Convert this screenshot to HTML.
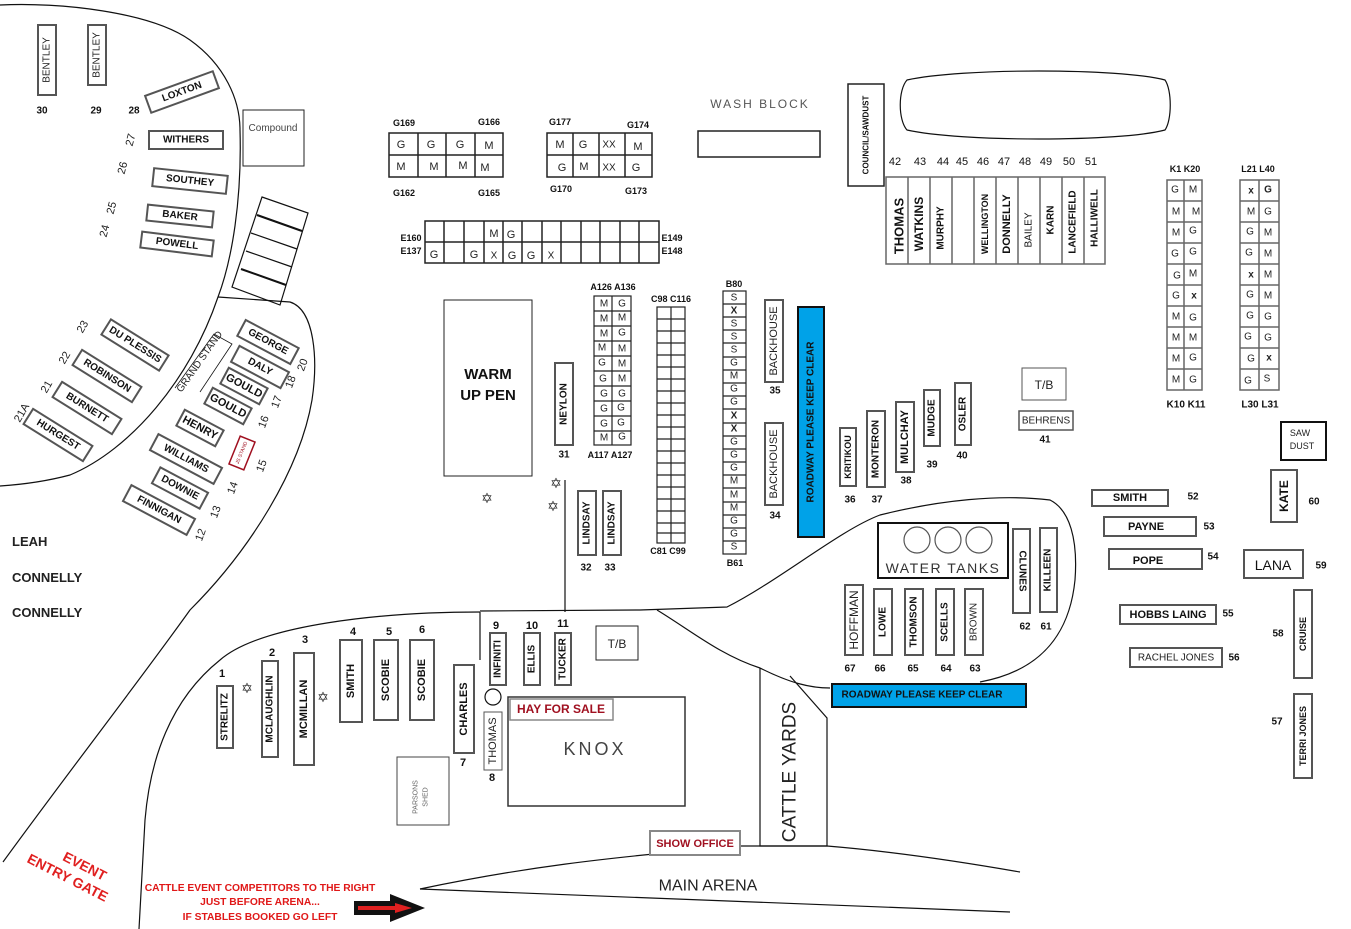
<!DOCTYPE html>
<html><head><meta charset="utf-8"><style>
body{margin:0;background:#fff}
svg{display:block;font-family:"Liberation Sans",sans-serif}
.b{fill:#fff;stroke:#555;stroke-width:2}
.k{fill:#fff;stroke:#222;stroke-width:1.5}
.t{font-size:11px;font-weight:bold;fill:#111;text-anchor:middle;dominant-baseline:central}
.n{font-size:10px;font-weight:bold;fill:#111;text-anchor:middle;dominant-baseline:central}
.g{font-size:11px;fill:#222;text-anchor:middle;dominant-baseline:central}
.l{fill:none;stroke:#111;stroke-width:1.2}
.r{font-size:10.3px;font-weight:bold;fill:#e01818;text-anchor:middle}
</style></head><body>
<svg width="1351" height="929" viewBox="0 0 1351 929" xmlns="http://www.w3.org/2000/svg">
<path class="l" d="M0,5 C60,2 150,12 190,40 C225,65 240,100 240,130 C242,200 232,260 218,297 C190,380 130,450 70,475 C40,483 15,485 0,486"/>
<path class="l" d="M218,297 L290,302 C315,310 318,360 312,400 C300,470 250,550 190,610 C140,680 70,770 3,862"/>
<path class="l" d="M480,612 C380,612 260,625 220,660 C170,700 150,760 145,820 L139,929"/>
<path class="l" d="M480,611 L640,610 L727,607 C780,580 840,530 880,515 C940,500 1000,494 1050,500 C1070,510 1078,540 1075,580 C1070,630 1045,670 980,682"/>
<path class="l" d="M657,610 C690,630 720,655 760,668 C790,683 810,688 830,688"/>
<line class="l" x1="565" y1="480" x2="565" y2="612"/>
<path class="l" d="M760,668 L760,846 L827,846 L827,718 L790,676"/>
<g transform="translate(790,772) rotate(-90)"><text x="0" y="0" style="font-size:19px;fill:#222;text-anchor:middle;dominant-baseline:central">CATTLE YARDS</text></g>
<path class="l" d="M420,889 C520,868 600,858 740,846 L827,846 C900,852 980,865 1020,872"/>
<path class="l" d="M420,889 C600,895 800,902 1010,912"/>
<text x="708" y="886" style="font-size:16px;fill:#222;text-anchor:middle;dominant-baseline:central">MAIN ARENA</text>

<g transform="translate(47,60) rotate(-90)"><rect class="b" x="-35" y="-9" width="70" height="18"/><text class="g" style="font-size:10px">BENTLEY</text></g>
<g transform="translate(97,55) rotate(-90)"><rect class="b" x="-30" y="-9" width="60" height="18"/><text class="g" style="font-size:10px">BENTLEY</text></g>
<text class="n" x="42" y="111">30</text><text class="n" x="96" y="111">29</text><text class="n" x="134" y="111">28</text>
<g transform="translate(182,92) rotate(-20)"><rect class="b" x="-36" y="-9" width="72" height="18"/><text class="t" style="font-size:10px">LOXTON</text></g>
<g transform="translate(186,140)"><rect class="b" x="-37" y="-9" width="74" height="18"/><text class="t" style="font-size:10px">WITHERS</text></g>
<g transform="translate(190,181) rotate(6)"><rect class="b" x="-37" y="-9" width="74" height="18"/><text class="t" style="font-size:10px">SOUTHEY</text></g>
<g transform="translate(180,216) rotate(6)"><rect class="b" x="-33" y="-8" width="66" height="16"/><text class="t" style="font-size:10px">BAKER</text></g>
<g transform="translate(177,244) rotate(7)"><rect class="b" x="-36" y="-8" width="72" height="16"/><text class="t" style="font-size:10px">POWELL</text></g>
<g transform="translate(131,140) rotate(-75)"><text class="g">27</text></g>
<g transform="translate(123,168) rotate(-75)"><text class="g">26</text></g>
<g transform="translate(112,208) rotate(-75)"><text class="g">25</text></g>
<g transform="translate(105,231) rotate(-75)"><text class="g">24</text></g>
<rect class="k" x="243" y="110" width="61" height="56" style="stroke-width:1"/>
<text x="273" y="131" style="font-size:10px;fill:#444;text-anchor:middle">Compound</text>
<g class="l"><path d="M262,197 L308,213 L280,305 L232,287 Z"/><line x1="257" y1="215" x2="302" y2="231" style="stroke-width:2"/><line x1="251" y1="233" x2="297" y2="249"/><line x1="246" y1="251" x2="292" y2="267"/><line x1="241" y1="269" x2="286" y2="285" style="stroke-width:2"/></g>

<g transform="translate(135,345) rotate(32)"><rect class="b" x="-34" y="-9" width="68" height="18"/><text class="t" style="font-size:10px">DU PLESSIS</text></g>
<g transform="translate(107,376) rotate(32)"><rect class="b" x="-35" y="-9" width="70" height="18"/><text class="t" style="font-size:10px">ROBINSON</text></g>
<g transform="translate(87,408) rotate(32)"><rect class="b" x="-35" y="-9" width="70" height="18"/><text class="t" style="font-size:10px">BURNETT</text></g>
<g transform="translate(58,435) rotate(32)"><rect class="b" x="-35" y="-9" width="70" height="18"/><text class="t" style="font-size:10px">HURGEST</text></g>
<g transform="translate(83,327) rotate(-60)"><text class="g">23</text></g>
<g transform="translate(65,358) rotate(-60)"><text class="g">22</text></g>
<g transform="translate(47,387) rotate(-60)"><text class="g">21</text></g>
<g transform="translate(22,413) rotate(-60)"><text class="g">21A</text></g>
<path class="l" style="stroke-width:0.8" d="M175,388 L214,334 L232,344 L200,392"/>
<g transform="translate(200,362) rotate(-55)"><text class="g" style="font-size:10px">GRAND STAND</text></g>
<g transform="translate(268,342) rotate(28)"><rect class="b" x="-30" y="-9" width="60" height="18"/><text class="t" style="font-size:10px">GEORGE</text></g>
<g transform="translate(260,367) rotate(28)"><rect class="b" x="-28" y="-9" width="56" height="18"/><text class="t" style="font-size:10px">DALY</text></g>
<g transform="translate(244,386) rotate(28)"><rect class="b" x="-22" y="-9" width="44" height="18"/><text class="t" style="font-size:11px">GOULD</text></g>
<g transform="translate(228,406) rotate(28)"><rect class="b" x="-22" y="-9" width="44" height="18"/><text class="t" style="font-size:11px">GOULD</text></g>
<g transform="translate(200,428) rotate(28)"><rect class="b" x="-22" y="-9" width="44" height="18"/><text class="t" style="font-size:11px">HENRY</text></g>
<g transform="translate(186,459) rotate(28)"><rect class="b" x="-36" y="-9" width="72" height="18"/><text class="t" style="font-size:10px">WILLIAMS</text></g>
<g transform="translate(180,488) rotate(28)"><rect class="b" x="-27" y="-9" width="54" height="18"/><text class="t" style="font-size:10px">DOWNIE</text></g>
<g transform="translate(159,510) rotate(28)"><rect class="b" x="-36" y="-9" width="72" height="18"/><text class="t" style="font-size:10px">FINNIGAN</text></g>
<g transform="translate(242,453) rotate(22)"><rect x="-8" y="-15" width="16" height="30" style="fill:#fff;stroke:#a01020;stroke-width:1.5"/><text class="g" style="font-size:5px;fill:#a01020" transform="rotate(-90)">JS STAND</text></g>
<g transform="translate(303,365) rotate(-70)"><text class="g">20</text></g>
<g transform="translate(291,382) rotate(-70)"><text class="g">18</text></g>
<g transform="translate(277,402) rotate(-70)"><text class="g">17</text></g>
<g transform="translate(264,422) rotate(-70)"><text class="g">16</text></g>
<g transform="translate(262,466) rotate(-70)"><text class="g">15</text></g>
<g transform="translate(233,488) rotate(-70)"><text class="g">14</text></g>
<g transform="translate(216,512) rotate(-70)"><text class="g">13</text></g>
<g transform="translate(201,535) rotate(-70)"><text class="g">12</text></g>
<text x="12" y="546" style="font-size:13px;font-weight:bold;fill:#222">LEAH</text>
<text x="12" y="582" style="font-size:13px;font-weight:bold;fill:#222">CONNELLY</text>
<text x="12" y="617" style="font-size:13px;font-weight:bold;fill:#222">CONNELLY</text>

<g class="k"><rect x="389" y="133" width="114" height="44"/><line x1="389" y1="155" x2="503" y2="155"/><line x1="418" y1="133" x2="418" y2="177"/><line x1="446" y1="133" x2="446" y2="177"/><line x1="475" y1="133" x2="475" y2="177"/>
<rect x="547" y="133" width="105" height="44"/><line x1="547" y1="155" x2="652" y2="155"/><line x1="573" y1="133" x2="573" y2="177"/><line x1="599" y1="133" x2="599" y2="177"/><line x1="625" y1="133" x2="625" y2="177"/></g>
<g class="g"><text x="401" y="145">G</text><text x="431" y="145">G</text><text x="460" y="145">G</text><text x="489" y="146">M</text><text x="401" y="167">M</text><text x="434" y="167">M</text><text x="463" y="166">M</text><text x="485" y="168">M</text>
<text x="560" y="145">M</text><text x="583" y="145">G</text><text x="609" y="145" style="font-size:10px">XX</text><text x="638" y="147">M</text><text x="562" y="168">G</text><text x="584" y="167">M</text><text x="609" y="168" style="font-size:10px">XX</text><text x="636" y="168">G</text></g>
<g class="n" style="font-size:9px"><text x="404" y="123">G169</text><text x="489" y="122">G166</text><text x="404" y="193">G162</text><text x="489" y="193">G165</text><text x="560" y="122">G177</text><text x="638" y="125">G174</text><text x="561" y="189">G170</text><text x="636" y="191">G173</text></g>
<g class="k"><rect x="425" y="221" width="234" height="42"/><line x1="425" y1="242" x2="659" y2="242"/>
<line x1="444" y1="221" x2="444" y2="263"/><line x1="464" y1="221" x2="464" y2="263"/><line x1="484" y1="221" x2="484" y2="263"/><line x1="503" y1="221" x2="503" y2="263"/><line x1="522" y1="221" x2="522" y2="263"/><line x1="542" y1="221" x2="542" y2="263"/><line x1="561" y1="221" x2="561" y2="263"/><line x1="581" y1="221" x2="581" y2="263"/><line x1="600" y1="221" x2="600" y2="263"/><line x1="620" y1="221" x2="620" y2="263"/><line x1="639" y1="221" x2="639" y2="263"/></g>
<g class="g"><text x="494" y="234">M</text><text x="511" y="235">G</text><text x="434" y="255">G</text><text x="474" y="255">G</text><text x="494" y="256" style="font-size:10px">X</text><text x="512" y="256">G</text><text x="531" y="256">G</text><text x="551" y="256" style="font-size:10px">X</text></g>
<g class="n" style="font-size:9px"><text x="411" y="238">E160</text><text x="411" y="251">E137</text><text x="672" y="238">E149</text><text x="672" y="251">E148</text></g>
<text x="760" y="108" style="font-size:12px;fill:#555;text-anchor:middle;letter-spacing:2px">WASH BLOCK</text>
<rect class="k" x="698" y="131" width="122" height="26"/>
<g transform="translate(866,135) rotate(-90)"><rect class="k" x="-51" y="-18" width="102" height="36"/><text class="t" style="font-size:8px">COUNCIL/SAWDUST</text></g>
<path class="l" d="M907,80 C960,68 1120,68 1165,80 C1172,90 1172,120 1165,130 C1120,142 960,142 907,130 C898,120 898,90 907,80 Z"/>

<g class="k" style="stroke:#666"><rect x="886" y="177" width="219" height="87"/>
<line x1="908" y1="177" x2="908" y2="264"/><line x1="930" y1="177" x2="930" y2="264"/><line x1="952" y1="177" x2="952" y2="264"/><line x1="974" y1="177" x2="974" y2="264"/><line x1="996" y1="177" x2="996" y2="264"/><line x1="1018" y1="177" x2="1018" y2="264"/><line x1="1040" y1="177" x2="1040" y2="264"/><line x1="1062" y1="177" x2="1062" y2="264"/><line x1="1084" y1="177" x2="1084" y2="264"/></g>
<g class="n" style="font-size:11px;font-weight:normal"><text x="895" y="162">42</text><text x="920" y="162">43</text><text x="943" y="162">44</text><text x="962" y="162">45</text><text x="983" y="162">46</text><text x="1004" y="162">47</text><text x="1025" y="162">48</text><text x="1046" y="162">49</text><text x="1069" y="162">50</text><text x="1091" y="162">51</text></g>
<g class="t"><text transform="translate(899,226) rotate(-90)" style="font-size:13px">THOMAS</text><text transform="translate(919,224) rotate(-90)" style="font-size:12px">WATKINS</text><text transform="translate(941,228) rotate(-90)" style="font-size:10px">MURPHY</text><text transform="translate(985,224) rotate(-90)" style="font-size:9px">WELLINGTON</text><text transform="translate(1007,224) rotate(-90)" style="font-size:11px">DONNELLY</text><text transform="translate(1029,230) rotate(-90)" style="font-size:10px;font-weight:normal">BAILEY</text><text transform="translate(1051,220) rotate(-90)" style="font-size:10px">KARN</text><text transform="translate(1073,222) rotate(-90)" style="font-size:10px">LANCEFIELD</text><text transform="translate(1095,218) rotate(-90)" style="font-size:10px">HALLIWELL</text></g>

<rect class="k" x="444" y="300" width="88" height="176" style="stroke-width:1"/>
<text x="488" y="379" style="font-size:15px;font-weight:bold;fill:#111;text-anchor:middle">WARM</text>
<text x="488" y="400" style="font-size:15px;font-weight:bold;fill:#111;text-anchor:middle">UP PEN</text>
<g transform="translate(564,404) rotate(-90)"><rect class="b" x="-41" y="-9" width="82" height="18"/><text class="t" style="font-size:10px">NEYLON</text></g>
<text class="n" x="564" y="455">31</text>
<g class="g" style="font-size:14px;fill:#333"><text x="487" y="498">✡</text><text x="556" y="483">✡</text><text x="553" y="506">✡</text><text x="323" y="697">✡</text><text x="247" y="688">✡</text></g>
<g transform="translate(587,523) rotate(-90)"><rect class="b" x="-32" y="-9" width="64" height="18"/><text class="t" style="font-size:10px">LINDSAY</text></g>
<g transform="translate(612,523) rotate(-90)"><rect class="b" x="-32" y="-9" width="64" height="18"/><text class="t" style="font-size:10px">LINDSAY</text></g>
<text class="n" x="586" y="568">32</text><text class="n" x="610" y="568">33</text>

<g class="k" style="stroke-width:1.2"><rect x="594" y="296" width="37" height="149"/><line x1="612" y1="296" x2="612" y2="445"/>
<line x1="594" y1="311" x2="631" y2="311"/><line x1="594" y1="326" x2="631" y2="326"/><line x1="594" y1="341" x2="631" y2="341"/><line x1="594" y1="356" x2="631" y2="356"/><line x1="594" y1="371" x2="631" y2="371"/><line x1="594" y1="386" x2="631" y2="386"/><line x1="594" y1="401" x2="631" y2="401"/><line x1="594" y1="416" x2="631" y2="416"/><line x1="594" y1="431" x2="631" y2="431"/></g>
<g class="g" style="font-size:10px"><text x="604" y="304">M</text><text x="622" y="304">G</text><text x="604" y="319">M</text><text x="622" y="318">M</text><text x="604" y="334">M</text><text x="622" y="333">G</text><text x="602" y="348">M</text><text x="622" y="349">M</text><text x="602" y="363">G</text><text x="622" y="364">M</text><text x="603" y="379">G</text><text x="622" y="379">M</text><text x="604" y="394">G</text><text x="622" y="394">G</text><text x="604" y="409">G</text><text x="621" y="408">G</text><text x="604" y="424">G</text><text x="621" y="423">G</text><text x="604" y="438">M</text><text x="622" y="437">G</text></g>
<g class="n" style="font-size:9px"><text x="613" y="287">A126 A136</text><text x="610" y="455">A117 A127</text><text x="671" y="299">C98 C116</text><text x="668" y="551">C81 C99</text><text x="734" y="284">B80</text><text x="735" y="563">B61</text></g>
<g class="k" style="stroke-width:1.2"><rect x="657" y="307" width="28" height="236"/><line x1="671" y1="307" x2="671" y2="543"/>
<path d="M657,319H685M657,331H685M657,343H685M657,355H685M657,367H685M657,379H685M657,391H685M657,403H685M657,415H685M657,427H685M657,439H685M657,451H685M657,463H685M657,475H685M657,487H685M657,499H685M657,511H685M657,523H685M657,533H685"/></g>
<g class="k" style="stroke-width:1.2"><rect x="723" y="291" width="23" height="263"/>
<path d="M723,304H746M723,317H746M723,330H746M723,343H746M723,357H746M723,370H746M723,383H746M723,396H746M723,409H746M723,423H746M723,436H746M723,449H746M723,462H746M723,475H746M723,488H746M723,502H746M723,515H746M723,528H746M723,541H746"/></g>
<g class="g" style="font-size:10px"><text x="734" y="298">S</text><text x="734" y="311" style="font-weight:bold">X</text><text x="734" y="324">S</text><text x="734" y="337">S</text><text x="734" y="350">S</text><text x="734" y="363">G</text><text x="734" y="376">M</text><text x="734" y="389">G</text><text x="734" y="402">G</text><text x="734" y="416" style="font-weight:bold">X</text><text x="734" y="429" style="font-weight:bold">X</text><text x="734" y="442">G</text><text x="734" y="455">G</text><text x="734" y="468">G</text><text x="734" y="481">M</text><text x="734" y="495">M</text><text x="734" y="508">M</text><text x="734" y="521">G</text><text x="734" y="534">G</text><text x="734" y="547">S</text></g>
<g transform="translate(774,341) rotate(-90)"><rect class="b" x="-41" y="-9" width="82" height="18"/><text class="g" style="font-size:11px">BACKHOUSE</text></g>
<g transform="translate(774,464) rotate(-90)"><rect class="b" x="-41" y="-9" width="82" height="18"/><text class="g" style="font-size:11px">BACKHOUSE</text></g>
<text class="n" x="775" y="391">35</text><text class="n" x="775" y="516">34</text>
<g transform="translate(811,422) rotate(-90)"><rect x="-115" y="-13" width="230" height="26" style="fill:#00a2e8;stroke:#111;stroke-width:2"/><text class="t" style="font-size:10px">ROADWAY PLEASE KEEP CLEAR</text></g>

<g transform="translate(848,457) rotate(-90)"><rect class="b" x="-29" y="-8" width="58" height="16"/><text class="t" style="font-size:9px">KRITIKOU</text></g>
<g transform="translate(876,449) rotate(-90)"><rect class="b" x="-38" y="-9" width="76" height="18"/><text class="t" style="font-size:10px">MONTERON</text></g>
<g transform="translate(905,437) rotate(-90)"><rect class="b" x="-35" y="-9" width="70" height="18"/><text class="t" style="font-size:11px">MULCHAY</text></g>
<g transform="translate(932,418) rotate(-90)"><rect class="b" x="-28" y="-8" width="56" height="16"/><text class="t" style="font-size:10px">MUDGE</text></g>
<g transform="translate(963,414) rotate(-90)"><rect class="b" x="-31" y="-8" width="62" height="16"/><text class="t" style="font-size:10px">OSLER</text></g>
<g class="n"><text x="850" y="500">36</text><text x="877" y="500">37</text><text x="906" y="481">38</text><text x="932" y="465">39</text><text x="962" y="456">40</text><text x="1045" y="440">41</text></g>
<rect class="b" x="1022" y="368" width="44" height="32" style="stroke-width:1"/><text class="g" x="1044" y="385" style="font-size:12px">T/B</text>
<rect class="b" x="1019" y="411" width="54" height="19" style="stroke-width:1.5"/><text class="g" x="1046" y="421" style="font-size:10px">BEHRENS</text>

<g class="k" style="stroke:#666"><rect x="1167" y="180" width="35" height="210"/><line x1="1184" y1="180" x2="1184" y2="390"/>
<path d="M1167,201H1202M1167,222H1202M1167,243H1202M1167,264H1202M1167,285H1202M1167,306H1202M1167,327H1202M1167,348H1202M1167,369H1202"/>
<rect x="1240" y="180" width="39" height="210"/><line x1="1259" y1="180" x2="1259" y2="390"/>
<path d="M1240,201H1279M1240,222H1279M1240,243H1279M1240,264H1279M1240,285H1279M1240,306H1279M1240,327H1279M1240,348H1279M1240,369H1279"/></g>
<g class="g" style="font-size:10px"><text x="1175" y="190">G</text><text x="1193" y="190">M</text><text x="1176" y="212">M</text><text x="1196" y="212">M</text><text x="1176" y="233">M</text><text x="1193" y="231">G</text><text x="1175" y="254">G</text><text x="1193" y="252">G</text><text x="1177" y="276">G</text><text x="1193" y="274">M</text><text x="1176" y="296">G</text><text x="1194" y="296" style="font-weight:bold">x</text><text x="1176" y="317">M</text><text x="1193" y="318">G</text><text x="1176" y="338">M</text><text x="1193" y="338">M</text><text x="1176" y="359">M</text><text x="1193" y="358">G</text><text x="1176" y="380">M</text><text x="1193" y="380">G</text>
<text x="1251" y="191" style="font-weight:bold">x</text><text x="1268" y="190" style="font-weight:bold">G</text><text x="1251" y="212">M</text><text x="1268" y="212">G</text><text x="1250" y="232">G</text><text x="1268" y="233">M</text><text x="1249" y="253">G</text><text x="1268" y="254">M</text><text x="1251" y="275" style="font-weight:bold">x</text><text x="1268" y="275">M</text><text x="1250" y="295">G</text><text x="1268" y="296">M</text><text x="1250" y="316">G</text><text x="1268" y="317">G</text><text x="1248" y="337">G</text><text x="1268" y="338">G</text><text x="1251" y="359">G</text><text x="1269" y="358" style="font-weight:bold">x</text><text x="1248" y="381">G</text><text x="1267" y="379">S</text></g>
<g class="n" style="font-size:9px"><text x="1185" y="169">K1 K20</text><text x="1258" y="169">L21 L40</text><text x="1186" y="405" style="font-size:10px">K10 K11</text><text x="1260" y="405" style="font-size:10px">L30 L31</text></g>
<rect x="1281" y="422" width="45" height="38" style="fill:#fff;stroke:#111;stroke-width:2"/>
<text class="g" x="1300" y="433" style="font-size:9px">SAW</text><text class="g" x="1302" y="446" style="font-size:9px">DUST</text>

<rect class="b" x="1092" y="490" width="76" height="16"/><text class="t" x="1130" y="498">SMITH</text><text class="n" x="1193" y="497">52</text>
<rect class="b" x="1104" y="517" width="92" height="19"/><text class="t" x="1146" y="527">PAYNE</text><text class="n" x="1209" y="527">53</text>
<rect class="b" x="1109" y="549" width="93" height="20"/><text class="t" x="1148" y="561">POPE</text><text class="n" x="1213" y="557">54</text>
<rect class="b" x="1120" y="605" width="96" height="19"/><text class="t" x="1168" y="615">HOBBS LAING</text><text class="n" x="1228" y="614">55</text>
<rect class="b" x="1130" y="648" width="92" height="19"/><text class="g" x="1176" y="658" style="font-size:10px">RACHEL JONES</text><text class="n" x="1234" y="658">56</text>
<g transform="translate(1284,496) rotate(-90)"><rect class="b" x="-26" y="-13" width="52" height="26"/><text class="t" style="font-size:12px">KATE</text></g><text class="n" x="1314" y="502">60</text>
<rect class="b" x="1244" y="550" width="59" height="28"/><text class="t" x="1273" y="565" style="font-size:14px;font-weight:normal">LANA</text><text class="n" x="1321" y="566">59</text>
<g transform="translate(1303,634) rotate(-90)"><rect class="b" x="-44" y="-9" width="88" height="18"/><text class="t" style="font-size:9px">CRUISE</text></g><text class="n" x="1278" y="634">58</text>
<g transform="translate(1303,736) rotate(-90)"><rect class="b" x="-42" y="-9" width="84" height="18"/><text class="t" style="font-size:9px">TERRI JONES</text></g><text class="n" x="1277" y="722">57</text>

<rect x="878" y="523" width="130" height="55" style="fill:#fff;stroke:#111;stroke-width:2"/>
<g class="l" style="stroke:#555"><circle cx="917" cy="540" r="13"/><circle cx="948" cy="540" r="13"/><circle cx="979" cy="540" r="13"/></g>
<text x="943" y="568" style="font-size:14px;fill:#333;text-anchor:middle;dominant-baseline:central;letter-spacing:1.5px">WATER TANKS</text>
<g transform="translate(1022,571) rotate(90)"><rect class="b" x="-42" y="-8" width="84" height="17"/><text class="t" style="font-size:10px">CLUNES</text></g>
<g transform="translate(1048,570) rotate(-90)"><rect class="b" x="-42" y="-8" width="84" height="17"/><text class="t" style="font-size:10px">KILLEEN</text></g>
<text class="n" x="1025" y="627">62</text><text class="n" x="1046" y="627">61</text>
<g transform="translate(854,620) rotate(-90)"><rect class="b" x="-35" y="-9" width="70" height="18"/><text class="g" style="font-size:12px">HOFFMAN</text></g>
<g transform="translate(883,622) rotate(-90)"><rect class="b" x="-33" y="-9" width="66" height="18"/><text class="t" style="font-size:10px">LOWE</text></g>
<g transform="translate(914,622) rotate(-90)"><rect class="b" x="-33" y="-9" width="66" height="18"/><text class="t" style="font-size:10px">THOMSON</text></g>
<g transform="translate(945,622) rotate(-90)"><rect class="b" x="-33" y="-9" width="66" height="18"/><text class="t" style="font-size:10px">SCELLS</text></g>
<g transform="translate(974,622) rotate(-90)"><rect class="b" x="-33" y="-9" width="66" height="18"/><text class="g" style="font-size:10px">BROWN</text></g>
<g class="n"><text x="850" y="669">67</text><text x="880" y="669">66</text><text x="913" y="669">65</text><text x="946" y="669">64</text><text x="975" y="669">63</text></g>
<rect x="832" y="684" width="194" height="23" style="fill:#00a2e8;stroke:#111;stroke-width:2"/>
<text class="t" x="922" y="695" style="font-size:10px">ROADWAY PLEASE KEEP CLEAR</text>

<g transform="translate(225,717) rotate(-90)"><rect class="b" x="-31" y="-8" width="62" height="16"/><text class="t" style="font-size:10px">STRELITZ</text></g>
<g transform="translate(270,709) rotate(-90)"><rect class="b" x="-48" y="-8" width="96" height="16"/><text class="t" style="font-size:10px">MCLAUGHLIN</text></g>
<g transform="translate(304,709) rotate(-90)"><rect class="b" x="-56" y="-10" width="112" height="20"/><text class="t" style="font-size:11px">MCMILLAN</text></g>
<g transform="translate(351,681) rotate(-90)"><rect class="b" x="-41" y="-11" width="82" height="22"/><text class="t" style="font-size:11px">SMITH</text></g>
<g transform="translate(386,680) rotate(-90)"><rect class="b" x="-40" y="-12" width="80" height="24"/><text class="t" style="font-size:11px">SCOBIE</text></g>
<g transform="translate(422,680) rotate(-90)"><rect class="b" x="-40" y="-12" width="80" height="24"/><text class="t" style="font-size:11px">SCOBIE</text></g>
<g transform="translate(464,709) rotate(-90)"><rect class="b" x="-44" y="-10" width="88" height="20"/><text class="t" style="font-size:11px">CHARLES</text></g>
<g class="n" style="font-size:11px"><text x="222" y="674">1</text><text x="272" y="653">2</text><text x="305" y="640">3</text><text x="353" y="632">4</text><text x="389" y="632">5</text><text x="422" y="630">6</text><text x="463" y="763">7</text><text x="492" y="778">8</text><text x="496" y="626">9</text><text x="532" y="626">10</text><text x="563" y="624">11</text></g>
<line class="l" x1="480" y1="612" x2="480" y2="660"/>
<g transform="translate(498,659) rotate(-90)"><rect class="b" x="-26" y="-8" width="52" height="16"/><text class="t" style="font-size:10px">INFINITI</text></g>
<g transform="translate(532,659) rotate(-90)"><rect class="b" x="-26" y="-8" width="52" height="16"/><text class="t" style="font-size:10px">ELLIS</text></g>
<g transform="translate(563,659) rotate(-90)"><rect class="b" x="-26" y="-8" width="52" height="16"/><text class="t" style="font-size:10px">TUCKER</text></g>
<rect class="k" x="596" y="626" width="42" height="34" style="stroke-width:1"/><text class="g" x="617" y="644" style="font-size:12px">T/B</text>
<circle class="l" cx="493" cy="697" r="8"/>
<g transform="translate(493,741) rotate(-90)"><rect class="b" x="-29" y="-9" width="58" height="18" style="stroke-width:1"/><text class="g" style="font-size:11px">THOMAS</text></g>
<rect class="k" x="508" y="697" width="177" height="109" style="stroke:#333"/>
<text x="595" y="755" style="font-size:18px;fill:#444;text-anchor:middle;letter-spacing:3px">KNOX</text>
<rect x="510" y="699" width="103" height="21" style="fill:#fff;stroke:#888;stroke-width:1.5"/>
<text x="561" y="713" style="font-size:12px;font-weight:bold;fill:#a01020;text-anchor:middle">HAY FOR SALE</text>
<rect class="k" x="397" y="757" width="52" height="68" style="stroke:#444;stroke-width:1"/>
<g transform="translate(420,797) rotate(-90)"><text class="g" style="font-size:7px;fill:#666" y="-4">PARSONS</text><text class="g" style="font-size:7px;fill:#666" y="6">SHED</text></g>
<rect x="650" y="831" width="90" height="24" style="fill:#fff;stroke:#888;stroke-width:2"/>
<text x="695" y="847" style="font-size:11px;font-weight:bold;fill:#a01020;text-anchor:middle">SHOW OFFICE</text>

<g transform="translate(70,873) rotate(27)" style="font-size:14px;font-weight:bold;fill:#e02020;text-anchor:middle"><text x="10" y="-8">EVENT</text><text x="0" y="10">ENTRY GATE</text></g>
<text class="r" x="260" y="891">CATTLE EVENT COMPETITORS TO THE RIGHT</text>
<text class="r" x="260" y="905">JUST BEFORE ARENA...</text>
<text class="r" x="260" y="920">IF STABLES BOOKED GO LEFT</text>
<path d="M354,901 L390,901 L390,894 L425,908 L390,922 L390,915 L354,915 Z" style="fill:#111"/>
<path d="M358,906 L395,906 L395,903 L412,908 L395,913 L395,910 L358,910 Z" style="fill:#e02020"/>
</svg>
</body></html>
